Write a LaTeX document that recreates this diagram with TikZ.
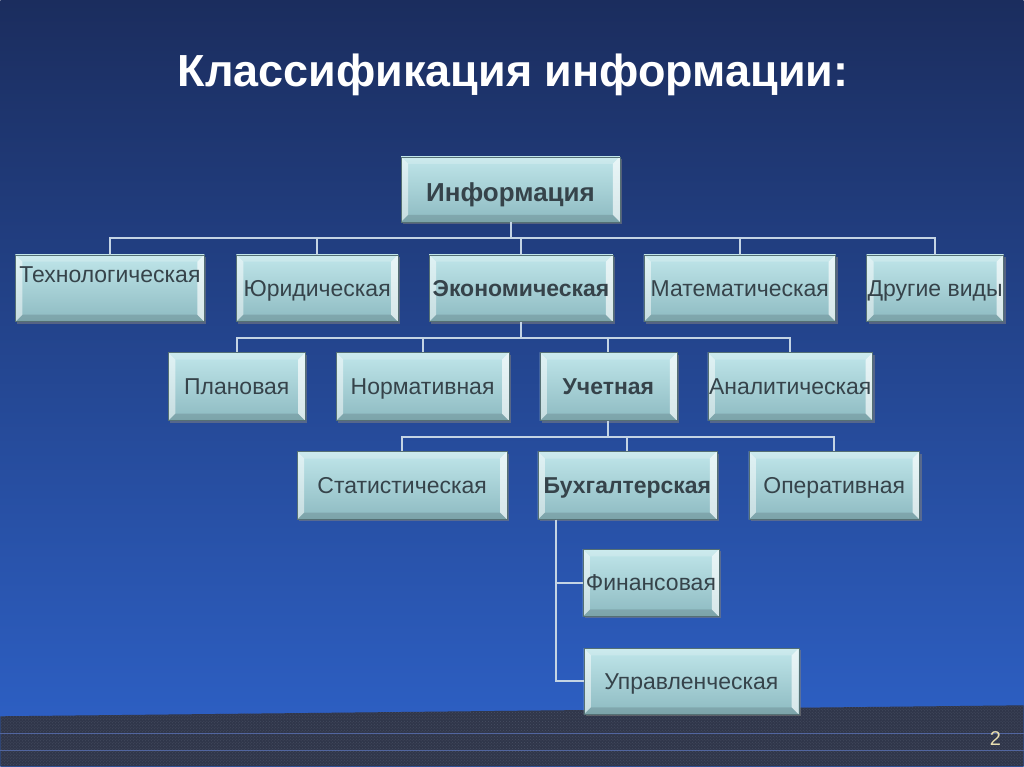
\documentclass[tikz,border=0pt]{standalone}
\usepackage{fontspec}
\setmainfont{Liberation Sans}
\usepackage{tikz}
\usetikzlibrary{shadows,patterns}
\definecolor{bgtop}{HTML}{1B2D5E}
\definecolor{bgmid}{HTML}{234189}
\definecolor{bgbot}{HTML}{2E62C9}
\definecolor{boxtop}{HTML}{C0E6EA}
\definecolor{boxbot}{HTML}{8DBAC1}
\definecolor{boxtext}{HTML}{36434A}
\definecolor{linkcol}{HTML}{C4D4E4}
\definecolor{stripcol}{HTML}{30364A}
\definecolor{stripdot}{HTML}{474F63}
\definecolor{stripline}{HTML}{5266A0}
\definecolor{numcol}{HTML}{E8DEB0}

\begin{document}
\begin{tikzpicture}[x=1pt,y=-1pt,
  bevel/.style={path picture={
    \coordinate (bvnw) at (path picture bounding box.north west);
    \coordinate (bvne) at (path picture bounding box.north east);
    \coordinate (bvsw) at (path picture bounding box.south west);
    \coordinate (bvse) at (path picture bounding box.south east);
    \fill[white,opacity=.2] (bvnw) -- (bvne) -- ([shift={(-7pt,-7pt)}]bvne) -- ([shift={(7pt,-7pt)}]bvnw) -- cycle;
    \fill[black,opacity=.12] (bvsw) -- (bvse) -- ([shift={(-7pt,7pt)}]bvse) -- ([shift={(7pt,7pt)}]bvsw) -- cycle;
    \fill[white,opacity=.5] (bvnw) -- ([shift={(7pt,-7pt)}]bvnw) -- ([shift={(7pt,7pt)}]bvsw) -- (bvsw) -- cycle;
    \fill[white,opacity=.65] (bvne) -- ([shift={(-7pt,-7pt)}]bvne) -- ([shift={(-7pt,7pt)}]bvse) -- (bvse) -- cycle;
  }},
  box/.style={rectangle, inner sep=0pt, top color=boxtop, bottom color=boxbot,
    draw=boxbot!60!black, line width=.4pt, text=boxtext, bevel,
    font=\fontsize{23}{27}\selectfont, text height=16pt, text depth=0pt,
    drop shadow={shadow xshift=2pt, shadow yshift=-2pt, opacity=.55}},
  hub/.style={box, font=\bfseries\fontsize{23}{27}\selectfont},
  link/.style={draw=linkcol, line width=2pt}
]
\shade[top color=bgtop, middle color=bgmid, bottom color=bgbot] (0,0) rectangle (1024,767);
\fill[stripcol] (0,717) -- (1024,706) -- (1024,767) -- (0,767) -- cycle;
\fill[pattern=crosshatch dots, pattern color=stripdot] (0,717) -- (1024,706) -- (1024,767) -- (0,767) -- cycle;
\draw[stripline, line width=1pt] (0,734) -- (1024,734);
\draw[stripline, line width=1pt] (0,751) -- (1024,751);

\node[anchor=base, text=white, font=\bfseries\fontsize{45}{54}\selectfont] (title) at (513,87) {Классификация информации:};
\node[text=numcol, font=\fontsize{20}{24}\selectfont] (pg) at (996,739) {2};

\node[hub, minimum width=219pt, minimum height=65pt, font=\bfseries\fontsize{26}{30}\selectfont, text height=25pt] (info) at (510.5,189.5) {Информация};

\node[box, minimum width=189pt, minimum height=67pt, text depth=27pt] (tech) at (109.5,288.5) {Технологическая};
\node[box, minimum width=162pt, minimum height=67pt] (jur) at (317,288.5) {Юридическая};
\node[hub, minimum width=184pt, minimum height=67pt] (econ) at (521,288.5) {Экономическая};
\node[box, minimum width=192pt, minimum height=67pt] (math) at (740,288.5) {Математическая};
\node[box, minimum width=137pt, minimum height=67pt] (other) at (935.5,288.5) {Другие виды};

\node[box, minimum width=137pt, minimum height=68pt] (plan) at (236.5,387) {Плановая};
\node[box, minimum width=173pt, minimum height=68pt] (norm) at (422.5,387) {Нормативная};
\node[hub, minimum width=137pt, minimum height=68pt] (uch) at (608.5,387) {Учетная};
\node[box, minimum width=165pt, minimum height=68pt] (anal) at (790.5,387) {Аналитическая};

\node[box, minimum width=210pt, minimum height=68pt] (stat) at (402,486) {Статистическая};
\node[hub, minimum width=179pt, minimum height=68pt] (buh) at (627.5,486) {Бухгалтерская};
\node[box, minimum width=171pt, minimum height=68pt] (oper) at (834.5,486) {Оперативная};

\node[box, minimum width=136pt, minimum height=67pt] (fin) at (651,583.5) {Финансовая};
\node[box, minimum width=215pt, minimum height=66pt] (upr) at (691.5,682) {Управленческая};

\draw[link] (info.south) -- ++(0,16) coordinate (bar1);
\foreach \n in {tech,jur,econ,math,other}
  \draw[link] (bar1) -| (\n.north);
\draw[link] (econ.south) -- ++(0,16) coordinate (bar2);
\foreach \n in {plan,norm,uch,anal}
  \draw[link] (bar2) -| (\n.north);
\draw[link] (uch.south) -- ++(0,16) coordinate (bar3);
\foreach \n in {stat,buh,oper}
  \draw[link] (bar3) -| (\n.north);
\coordinate (buhtap) at ([xshift=18pt]buh.south west);
\draw[link] (buhtap) |- (fin.west);
\draw[link] (buhtap) |- (upr.west);
\end{tikzpicture}
\end{document}
